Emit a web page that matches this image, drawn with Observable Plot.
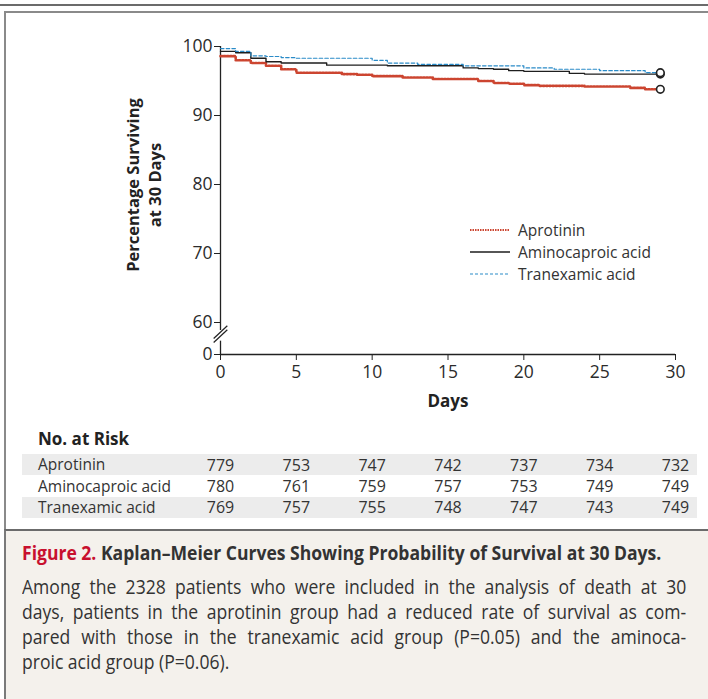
<!DOCTYPE html>
<html>
<head>
<meta charset="utf-8">
<script src="https://cdn.jsdelivr.net/npm/d3@7"></script>
<script src="https://cdn.jsdelivr.net/npm/@observablehq/plot@0.6"></script>
<style>
  html, body { margin: 0; padding: 0; background: #fff; }
  #page { position: relative; width: 708px; height: 699px; overflow: hidden; font-family: "Open Sans", "Lato", sans-serif; color: #2b2b2b; }
  .abs { position: absolute; }
  #topRule { left: 0; top: 4px; width: 708px; height: 2px; background: #6b6b6b; }
  #box { left: 4px; top: 11px; width: 704px; height: 518px; border-left: 2px solid #8a8a8a; border-top: 2px solid #8a8a8a; box-sizing: border-box; background: #fff; }
  #capBox { left: 4px; top: 529px; width: 704px; height: 170px; border-left: 2px solid #7a7a7a; border-top: 2px solid #6b6b6b; box-sizing: border-box; background: #f4f1ec; }
  #legend { left: 470px; top: 219px; font-size: 15.5px; color: #333; white-space: nowrap; }
  #legend .row { display: flex; align-items: center; height: 22px; }
  #legend svg { margin-right: 8px; }
  #ylab { left: 144px; top: 185px; width: 0; height: 0; }
  #ylab div { position: absolute; left: 0; top: 0; transform: translate(-50%, -50%) rotate(-90deg); white-space: nowrap; text-align: center; font-weight: bold; font-size: 16.5px; line-height: 22px; color: #222; }
  #riskTitle { left: 38px; top: 427px; font-weight: bold; font-size: 17px; color: #222; white-space: nowrap; }
  .stripe { left: 22px; width: 675px; height: 21px; background: #ececec; }
  .rlab { left: 38px; font-size: 15.5px; color: #333; line-height: 21px; white-space: nowrap; }
  #caption { left: 22px; top: 538px; width: 738px; transform: scaleX(0.9); transform-origin: 0 0; font-family: "Open Sans", sans-serif; color: #333; }
  #caption .title { font-size: 19.5px; font-weight: bold; white-space: nowrap; line-height: 30px; margin-bottom: 6px; }
  #caption .title .fig { color: #c8102e; }
  #caption .line { font-size: 19.5px; line-height: 25px; white-space: nowrap; text-align: justify; text-align-last: justify; }
  #caption .line.last { text-align-last: left; }
</style>
</head>
<body>
<div id="page">
  <div class="abs" id="topRule"></div>
  <div class="abs" id="box"></div>
  <div class="abs" id="capBox"></div>
  <div class="abs" id="chart" style="left:0;top:0;"></div>
  <div class="abs" id="ylab"><div>Percentage Surviving<br>at 30 Days</div></div>
  <div class="abs" id="legend"></div>
  <div class="abs" id="riskTitle">No. at Risk</div>
  <div class="abs stripe" style="top:454px;"></div>
  <div class="abs stripe" style="top:497px;"></div>
  <div class="abs" id="riskLabels" style="left:0;top:0;"></div>
  <div class="abs" id="risk" style="left:0;top:453px;"></div>
  <div class="abs" id="caption">
    <div class="title"><span class="fig">Figure 2.</span> Kaplan–Meier Curves Showing Probability of Survival at 30 Days.</div>
    <div class="line">Among the 2328 patients who were included in the analysis of death at 30</div>
    <div class="line">days, patients in the aprotinin group had a reduced rate of survival as com-</div>
    <div class="line">pared with those in the tranexamic acid group (P=0.05) and the aminoca-</div>
    <div class="line last">proic acid group (P=0.06).</div>
  </div>
</div>
<script>
// ---------- data ----------
const groups = ["Aprotinin", "Aminocaproic acid", "Tranexamic acid"];
const groupColors = ["#cc4530", "#1e1e1e", "#2a8bc8"];

const aprotininDays   = [0, 1, 2, 3, 4, 5, 8, 9, 10, 12, 14, 17, 18, 19, 20, 21, 24, 27, 28, 29];
const aprotininSurv   = [98.6, 98.0, 97.6, 97.2, 96.7, 96.2, 96.0, 95.9, 95.7, 95.5, 95.3, 95.0, 94.7, 94.6, 94.4, 94.3, 94.2, 94.0, 93.8, 93.8];

const aminocaproicDays = [0, 1, 2, 3, 4, 7, 11, 16, 17, 18, 19, 20, 23, 24, 29];
const aminocaproicSurv = [99.3, 99.1, 98.3, 97.8, 97.6, 97.3, 97.2, 96.9, 96.8, 96.7, 96.5, 96.4, 96.1, 96.0, 96.0];

const tranexamicDays  = [0, 1, 2, 3, 4, 5, 10, 11, 13, 16, 20, 22, 25, 28, 29];
const tranexamicSurv  = [99.7, 99.3, 98.65, 98.55, 98.4, 98.3, 98.0, 97.6, 97.4, 97.2, 96.9, 96.7, 96.5, 96.2, 96.2];

const xTicks = [0, 5, 10, 15, 20, 25, 30];
const yTicks = [0, 60, 70, 80, 90, 100];
const yBreakDomain = [0, 60, 100];   // broken axis: 0 | 60–100

const riskDays = [0, 5, 10, 15, 20, 25, 30];
const aprotininRisk    = [779, 753, 747, 742, 737, 734, 732];
const aminocaproicRisk = [780, 761, 759, 757, 753, 749, 749];
const tranexamicRisk   = [769, 757, 755, 748, 747, 743, 749];

// axis-break geometry (in data units)
const axisSegments = [{y1: 100, y2: 45}, {y1: 25, y2: 0}];
const breakSlashes = [
  {x1: -0.45, y1: 30, x2: 0.45, y2: 54},
  {x1: -0.45, y1: 22.5, x2: 0.45, y2: 46.5}
];

// ---------- build tables ----------
const series = [
  {g: groups[0], days: aprotininDays, surv: aprotininSurv},
  {g: groups[1], days: aminocaproicDays, surv: aminocaproicSurv},
  {g: groups[2], days: tranexamicDays, surv: tranexamicSurv}
];
const curves = series.flatMap(s => s.days.map((d, i) => ({group: s.g, day: d, surv: s.surv[i]})));
const ends = series.map(s => ({group: s.g, day: s.days[s.days.length - 1], surv: s.surv[s.surv.length - 1]}));
const riskRows = [aprotininRisk, aminocaproicRisk, tranexamicRisk]
  .flatMap((r, gi) => r.map((n, i) => ({group: groups[gi], day: riskDays[i], n})));

const styles = {
  "Aprotinin": {stroke: groupColors[0], strokeWidth: 2.6, dash: "1.6,1.6"},
  "Aminocaproic acid": {stroke: groupColors[1], strokeWidth: 1.4, dash: null},
  "Tranexamic acid": {stroke: groupColors[2], strokeWidth: 1.2, dash: "3.5,2.2"}
};

const font = '"Open Sans", "Lato", sans-serif';

const lineMarks = groups.map(g => Plot.line(curves.filter(d => d.group === g), {
  x: "day", y: "surv", curve: "step-after",
  stroke: styles[g].stroke, strokeWidth: styles[g].strokeWidth,
  strokeDasharray: styles[g].dash || undefined
}));

const chart = Plot.plot({
  width: 708, height: 420,
  marginLeft: 220, marginRight: 33, marginTop: 46, marginBottom: 66,
  x: {domain: [0, 30]},
  y: {type: "linear", domain: yBreakDomain, range: [354, 322, 46]},
  style: {fontFamily: font, fontSize: "17.5px", color: "#2b2b2b", background: "transparent", overflow: "visible"},
  marks: [
    Plot.axisY({ticks: yTicks, tickSize: 6, tickPadding: 2, label: null, fontSize: 17.5, stroke: "#222"}),
    Plot.axisX({ticks: xTicks, tickSize: 6, tickPadding: 5, label: null, fontSize: 17.5, stroke: "#222"}),
    Plot.ruleX(axisSegments, {x: 0, y1: "y1", y2: "y2", stroke: "#222", strokeWidth: 1.3}),
    Plot.link(breakSlashes, {x1: "x1", y1: "y1", x2: "x2", y2: "y2", stroke: "#222", strokeWidth: 1.2}),
    Plot.ruleY([0], {x1: 0, x2: 30, stroke: "#222", strokeWidth: 1.3}),
    ...lineMarks,
    Plot.dot(ends, {x: "day", y: "surv", r: 3.8, stroke: "#222", strokeWidth: 1.6, fill: "white"}),
    Plot.text(["Days"], {frameAnchor: "bottom", dy: 52, fontWeight: "bold", fontSize: 17, fill: "#222"})
  ]
});
document.getElementById("chart").appendChild(chart);

// legend
const legend = document.getElementById("legend");
groups.forEach(g => {
  const row = document.createElement("div");
  row.className = "row";
  const s = styles[g];
  row.innerHTML = `<svg width="40" height="6"><line x1="0" y1="3" x2="40" y2="3" stroke="${s.stroke}" stroke-width="${g === groups[0] ? 1.8 : s.strokeWidth}" ${s.dash ? `stroke-dasharray="${g === groups[0] ? "1.5,1" : "3,2"}"` : ""}/></svg><span>${g}</span>`;
  legend.appendChild(row);
});

// risk labels
const rl = document.getElementById("riskLabels");
groups.forEach((g, i) => {
  const d = document.createElement("div");
  d.className = "abs rlab";
  d.style.top = (454 + i * 21.5) + "px";
  d.textContent = g;
  rl.appendChild(d);
});

// risk numbers
const risk = Plot.plot({
  width: 708, height: 70,
  marginLeft: 220, marginRight: 33, marginTop: 0, marginBottom: 0,
  x: {domain: [0, 30], axis: null},
  y: {type: "point", domain: groups, range: [11.5, 54.5], padding: 0, axis: null},
  style: {fontFamily: font, fontSize: "16px", color: "#333", background: "transparent", overflow: "visible"},
  marks: [
    Plot.text(riskRows, {x: "day", y: "group", text: "n", fontSize: 16, fill: "#333"})
  ]
});
document.getElementById("risk").appendChild(risk);
</script>
</body>
</html>
